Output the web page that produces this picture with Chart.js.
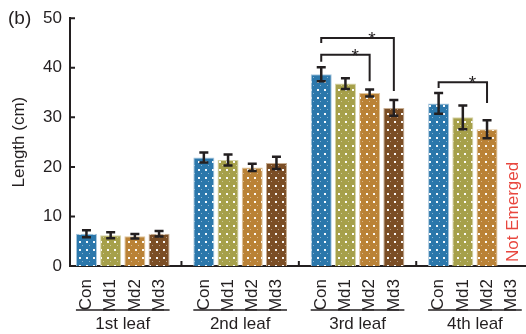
<!DOCTYPE html>
<html lang="en">
<head>
<meta charset="UTF-8">
<title>Leaf length</title>
<script src="https://cdn.jsdelivr.net/npm/chart.js"></script>
<style>
  html, body { margin: 0; padding: 0; background: #fff; }
  #wrap { position: relative; width: 526px; height: 334px; }
</style>
</head>
<body>
<div id="wrap"><canvas id="leafChart" width="526" height="334"></canvas></div>
<script>
// values
const leaves = ['1st leaf', '2nd leaf', '3rd leaf', '4th leaf'];
const treatments = ['Con', 'Md1', 'Md2', 'Md3'];
const conLen = [6.5, 21.9, 38.7, 32.8];
const md1Len = [6.2, 21.4, 36.8, 30.0];
const md2Len = [6.0, 19.9, 34.9, 27.6];
const md3Len = [6.5, 20.8, 31.9, null];   // 4th leaf not emerged
const conErr = [0.7, 1.0, 1.4, 2.1];
const md1Err = [0.6, 1.1, 1.1, 2.4];
const md2Err = [0.45, 0.75, 0.7, 1.8];
const md3Err = [0.55, 1.25, 1.6, null];
const yTicks = [0, 10, 20, 30, 40, 50];
// significance brackets: leaf index, bar from/to, bracket level and drop ends (cm)
const sigBrackets = [
  { leaf: 2, from: 0, to: 2, level: 42.6, leftEnd: 41.2, rightEnd: 37.3 },
  { leaf: 2, from: 0, to: 3, level: 46.0, leftEnd: 45.0, rightEnd: 35.3 },
  { leaf: 3, from: 0, to: 2, level: 37.1, leftEnd: 35.9, rightEnd: 32.9 }
];

const series = [conLen, md1Len, md2Len, md3Len];
const errs = [conErr, md1Err, md2Err, md3Err];
const fills = ['#2b77ab', '#a6a04a', '#ba8236', '#7b4e25'];
const edges = ['#a9c7dd', '#d6d3a8', '#e0c59d', '#c7ae93'];
const ink = '#231f20';
const FONT = '"Liberation Sans", Arial, sans-serif';

const GROUP_STEP = 4.85; // x units between leaf groups (one unit per bar)
function xPos(g, i) { return g * GROUP_STEP + i; }

// speckled fill like the printed bars
function makePattern(color) {
  const c = document.createElement('canvas');
  c.width = 7; c.height = 8;
  const p = c.getContext('2d');
  p.fillStyle = color;
  p.fillRect(0, 0, 7, 8);
  p.fillStyle = 'rgba(255,255,255,0.95)';
  p.fillRect(2, 1, 2, 2);
  p.fillStyle = 'rgba(255,255,255,0.45)';
  p.fillRect(5, 5, 1, 1);
  return p.createPattern(c, 'repeat');
}

const tickPositions = [];
leaves.forEach((_, g) => treatments.forEach((_, i) => tickPositions.push(xPos(g, i))));

const decor = {
  id: 'decor',
  afterDatasetsDraw(chart) {
    const ctx = chart.ctx, ys = chart.scales.y;
    ctx.save();
    ctx.strokeStyle = ink;
    ctx.lineWidth = 2.5;
    chart.data.datasets.forEach((ds, di) => {
      const meta = chart.getDatasetMeta(di);
      meta.data.forEach((bar, j) => {
        const pt = ds.data[j];
        const top = ys.getPixelForValue(pt.y + pt.err);
        const bot = ys.getPixelForValue(pt.y - pt.err);
        ctx.beginPath();
        ctx.moveTo(bar.x, top); ctx.lineTo(bar.x, bot);
        ctx.moveTo(bar.x - 4.5, top); ctx.lineTo(bar.x + 4.5, top);
        ctx.moveTo(bar.x - 4.5, bot); ctx.lineTo(bar.x + 4.5, bot);
        ctx.stroke();
      });
    });
    ctx.restore();
  },
  afterDraw(chart) {
    const ctx = chart.ctx, xs = chart.scales.x, ys = chart.scales.y;
    const area = chart.chartArea;
    const halfBar = (xs.getPixelForValue(1) - xs.getPixelForValue(0)) * 0.435;
    ctx.save();
    ctx.strokeStyle = ink;
    ctx.fillStyle = ink;

    // inner ticks on y axis
    ctx.lineWidth = 2;
    ctx.beginPath();
    yTicks.forEach(v => {
      const y = ys.getPixelForValue(v);
      ctx.moveTo(area.left, y); ctx.lineTo(area.left + 5, y);
    });
    // group separators on x axis
    for (let g = 0; g < leaves.length - 1; g++) {
      const x = xs.getPixelForValue((xPos(g, 3) + xPos(g + 1, 0)) / 2);
      ctx.moveTo(x, area.bottom); ctx.lineTo(x, area.bottom - 5);
    }
    ctx.stroke();

    // leaf group brackets and names
    ctx.lineWidth = 1.5;
    ctx.font = '17px ' + FONT;
    ctx.textAlign = 'center';
    ctx.textBaseline = 'middle';
    leaves.forEach((name, g) => {
      const x0 = xs.getPixelForValue(xPos(g, 0)) - halfBar;
      const x1 = xs.getPixelForValue(xPos(g, 3)) + halfBar;
      ctx.beginPath();
      ctx.moveTo(x0, 310); ctx.lineTo(x1, 310);
      ctx.stroke();
      ctx.fillText(name, (x0 + x1) / 2, 324);
    });

    // significance brackets
    ctx.lineWidth = 2;
    ctx.font = '19px ' + FONT;
    ctx.textBaseline = 'alphabetic';
    sigBrackets.forEach(b => {
      const xa = xs.getPixelForValue(xPos(b.leaf, b.from));
      const xb = xs.getPixelForValue(xPos(b.leaf, b.to));
      const yl = ys.getPixelForValue(b.level);
      ctx.beginPath();
      ctx.moveTo(xa, ys.getPixelForValue(b.leftEnd));
      ctx.lineTo(xa, yl); ctx.lineTo(xb, yl);
      ctx.lineTo(xb, ys.getPixelForValue(b.rightEnd));
      ctx.stroke();
      ctx.fillText('*', xa + (xb - xa) * 0.7, yl + 7);
    });

    // panel letter
    ctx.font = '19px ' + FONT;
    ctx.textAlign = 'left';
    ctx.textBaseline = 'middle';
    ctx.fillText('(b)', 8, 19);

    // missing 4th leaf of Md3
    ctx.save();
    ctx.translate(xs.getPixelForValue(xPos(3, 3)) + 2, area.bottom - 4);
    ctx.rotate(-Math.PI / 2);
    ctx.fillStyle = '#e8473f';
    ctx.font = '17px ' + FONT;
    ctx.textAlign = 'left';
    ctx.fillText('Not Emerged', 0, 0);
    ctx.restore();

    ctx.restore();
  }
};

new Chart(document.getElementById('leafChart'), {
  type: 'bar',
  data: {
    datasets: treatments.map((t, i) => ({
      label: t,
      data: series[i]
        .map((v, g) => v == null ? null : { x: xPos(g, i), y: v, err: errs[i][g] })
        .filter(p => p),
      backgroundColor: makePattern(fills[i]),
      borderColor: edges[i],
      borderWidth: 1,
      grouped: false,
      barPercentage: 0.87,
      categoryPercentage: 1
    }))
  },
  options: {
    responsive: false,
    animation: false,
    devicePixelRatio: 1,
    layout: { padding: { top: 17, right: 0, left: 0, bottom: 0 } },
    plugins: { legend: { display: false }, tooltip: { enabled: false } },
    scales: {
      x: {
        type: 'linear',
        offset: false,
        min: -0.68,
        max: 18.16,
        grid: { display: false, offset: false },
        border: { color: ink, width: 2 },
        afterBuildTicks(scale) { scale.ticks = tickPositions.map(v => ({ value: v })); },
        afterFit(scale) {
          scale.height = 68;
          scale.paddingLeft = 0;
          scale.paddingRight = 0;
        },
        ticks: {
          autoSkip: false,
          minRotation: 90,
          maxRotation: 90,
          padding: 5,
          color: ink,
          font: { size: 17, family: FONT },
          callback: (value, index) => treatments[index % treatments.length]
        }
      },
      y: {
        min: 0,
        max: 50,
        grid: { display: false, drawTicks: false },
        border: { color: ink, width: 2 },
        afterFit(scale) { scale.width = 70; },
        ticks: {
          stepSize: 10,
          padding: 8,
          color: ink,
          font: { size: 17, family: FONT }
        },
        title: {
          display: true,
          text: 'Length (cm)',
          color: ink,
          font: { size: 17, family: FONT },
          padding: { top: 9, bottom: 0 }
        }
      }
    }
  },
  plugins: [decor]
});
</script>
</body>
</html>
